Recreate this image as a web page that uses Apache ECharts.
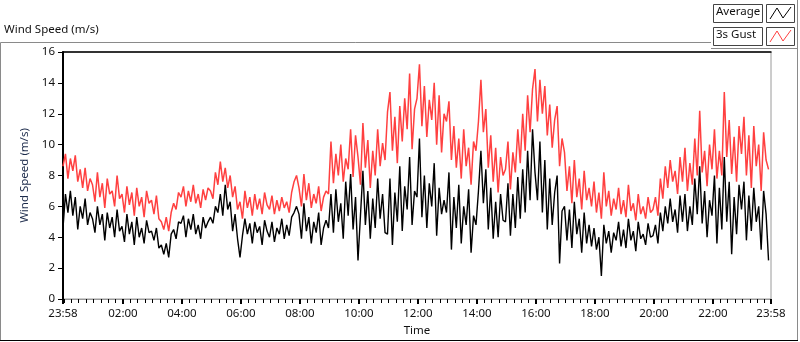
<!DOCTYPE html>
<html>
<head>
<meta charset="utf-8">
<script src="https://cdn.jsdelivr.net/npm/echarts@6/dist/echarts.min.js"></script>
<style>
html, body { margin: 0; padding: 0; background: #fff; }
#chart { width: 800px; height: 342px; }
</style>
</head>
<body>
<div id="chart"></div>
<script>
// one sample every 5 minutes, starting 23:58
const stepMinutes = 5;

const gust = [
  8.6, 9.4, 7.8, 9.1, 8.3, 9.3, 7.6, 8.4, 7.2, 8.5, 7.0, 7.8,
  7.4, 6.3, 8.2, 6.6, 7.5, 5.9, 7.8, 6.8, 7.0, 6.0, 8.0, 6.5,
  6.8, 5.6, 7.3, 6.1, 6.9, 5.4, 7.2, 6.0, 6.6, 5.3, 7.0, 6.2,
  6.4, 5.5, 6.7, 5.2, 5.0, 4.5, 5.3, 4.4, 5.6, 6.2, 5.8, 6.9,
  6.6, 7.3, 6.0, 7.0, 6.3, 7.4, 6.2, 6.8, 5.9, 7.1, 6.4, 7.2,
  7.0, 6.5, 8.2, 7.4, 8.9, 7.6, 8.5, 7.2, 8.0, 6.6, 7.3, 5.8,
  6.3, 5.2, 7.0, 5.9, 6.6, 5.4, 6.8, 5.8, 6.5, 5.5, 6.9, 6.1,
  5.8, 6.7, 5.5, 6.4, 5.7, 6.6, 5.9, 6.3, 5.6, 6.9, 7.6, 8.0,
  7.2, 6.0, 8.1, 6.4, 7.5, 5.9, 6.8, 6.2, 7.3, 5.7, 6.6, 7.0,
  6.8, 10.2, 7.5, 9.4, 8.0, 10.0, 7.6, 9.1, 8.4, 11.0, 7.9, 10.6,
  9.2, 7.4, 11.4, 8.5, 10.3, 7.2, 9.6, 8.0, 11.0, 8.6, 10.1, 9.0,
  12.1, 13.4, 9.6, 11.8, 8.8, 12.5, 10.2, 13.0, 11.0, 14.6, 9.7, 12.3,
  13.0, 15.2, 11.2, 13.8, 10.5, 12.9, 11.6, 14.0, 10.0, 13.2, 9.5, 12.0,
  11.5, 12.8, 9.0, 11.2, 8.5, 10.4, 7.8, 11.0, 8.6, 9.8, 7.4, 10.2,
  9.6, 11.5, 14.2, 10.8, 12.3, 8.5, 10.6, 7.6, 9.8, 6.9, 9.2, 8.0,
  8.4, 10.2, 7.1, 9.5, 8.2, 11.0, 8.8, 12.0, 9.6, 13.2, 10.8, 13.6,
  14.9, 11.5, 14.2, 12.0, 13.8, 10.6, 12.6, 9.8, 11.6, 12.5, 8.6, 10.4,
  9.5, 7.0, 8.6, 6.2, 9.0, 6.6, 7.8, 5.8, 8.3, 6.4, 7.2, 6.0,
  7.6, 5.6, 6.9, 5.2, 8.2, 6.0, 7.0, 5.4, 6.5, 5.8, 7.2, 5.5,
  6.4, 5.3, 7.4, 5.7, 6.2, 5.1, 6.8, 5.5, 6.0, 5.2, 6.6, 5.6,
  5.8, 6.6, 5.4, 7.8, 6.5, 8.6, 7.2, 9.0, 7.6, 8.3, 6.8, 9.2,
  7.6, 9.8, 7.0, 8.8, 7.4, 10.4, 8.0, 12.2, 8.2, 9.6, 7.3, 10.0,
  8.4, 11.0, 7.8, 9.6, 8.0, 13.4, 9.2, 11.6, 8.1, 10.5, 7.6, 11.2,
  9.4, 11.8, 8.0, 10.6, 7.2, 11.2, 8.6, 10.0, 7.0, 10.8, 9.0, 8.4
];

const average = [
  4.6, 6.8, 5.6, 7.0, 5.4, 6.6, 4.5, 6.0, 5.2, 6.5, 4.8, 5.6,
  5.2, 4.3, 6.0, 4.8, 5.5, 3.8, 5.6, 4.6, 5.3, 4.0, 5.8, 4.4,
  4.7, 3.7, 5.5, 4.2, 5.0, 3.5, 5.3, 4.0, 4.6, 3.6, 5.1, 4.3,
  4.4, 3.8, 4.6, 3.3, 3.5, 2.9, 3.6, 2.7, 4.2, 4.5, 3.9, 5.0,
  4.9, 5.4, 4.0, 5.2, 4.5, 5.5, 4.2, 4.8, 3.9, 5.3, 4.6, 5.0,
  5.3, 4.9, 6.0, 5.6, 6.8, 5.4, 7.4, 5.8, 6.3, 4.4, 5.5, 3.9,
  2.7, 4.1, 5.2, 4.2, 4.9, 3.6, 5.0, 4.3, 4.7, 3.5, 5.1, 4.4,
  4.0, 5.0, 3.7, 4.6, 4.2, 5.2, 3.9, 4.8, 4.1, 5.3, 5.6, 6.0,
  5.5, 3.9, 6.2, 4.4, 5.3, 3.6, 5.0, 4.3, 5.6, 3.5, 4.6, 5.1,
  4.6, 6.8, 4.3, 7.1, 5.0, 6.2, 3.9, 7.6, 5.4, 8.1, 4.5, 6.6,
  2.5, 5.4, 8.3, 4.8, 7.0, 3.9, 6.5, 4.6, 7.8, 5.2, 6.8, 4.3,
  4.2, 7.8, 3.5, 6.9, 5.0, 8.6, 4.4, 7.3, 5.8, 9.2, 4.8, 7.0,
  6.6, 10.4, 5.3, 8.0, 4.6, 7.5, 6.0, 8.8, 4.1, 7.2, 5.5, 6.4,
  5.6, 8.2, 3.2, 6.6, 4.6, 7.4, 3.6, 6.0, 4.8, 7.1, 3.0, 5.4,
  4.8, 7.0, 9.6, 6.2, 8.4, 4.5, 7.2, 3.9, 6.3, 4.0, 6.8, 5.1,
  5.0, 7.5, 4.1, 6.8, 4.6, 7.9, 5.2, 8.4, 5.6, 9.6, 6.4, 11.0,
  8.2, 6.4, 10.2, 5.6, 9.0, 4.5, 7.8, 4.8, 6.9, 8.0, 2.3, 5.7,
  6.0, 3.8, 5.8, 3.3, 6.3, 4.2, 5.2, 3.0, 5.6, 3.6, 4.8, 3.4,
  4.6, 3.2, 4.0, 1.5, 4.8, 3.6, 4.4, 3.0, 4.3, 3.8, 5.0, 3.4,
  4.5, 3.3, 5.2, 3.8, 4.4, 3.1, 5.0, 3.9, 4.2, 3.5, 4.9, 4.0,
  4.1, 4.8, 3.6, 5.6, 4.4, 6.0, 4.9, 6.5, 5.0, 5.8, 4.3, 6.7,
  5.0, 6.8, 4.4, 6.0, 4.8, 7.8, 5.5, 8.6, 4.9, 7.0, 4.0, 6.4,
  5.4, 8.0, 3.6, 7.2, 4.5, 9.2, 5.0, 7.6, 2.9, 6.6, 4.2, 7.4,
  5.8, 7.6, 3.8, 6.7, 4.4, 7.2, 5.0, 6.0, 3.2, 7.0, 5.5, 2.5
];

// minutes after 23:58
const majorTicks = [0, 122, 242, 362, 482, 602, 722, 842, 962, 1082, 1202, 1322, 1440];
const tickLabels = ['23:58', '02:00', '04:00', '06:00', '08:00', '10:00', '12:00',
  '14:00', '16:00', '18:00', '20:00', '22:00', '23:58'];
const minorTicks = [];
for (let m = 2; m < 1440; m += 15) {
  if (majorTicks.indexOf(m) < 0) minorTicks.push(m);
}

const toPairs = (arr) => arr.map((v, i) => [i * stepMinutes, v]);

const FONT = 'Noto Sans';
const chart = echarts.init(document.getElementById('chart'));

const option = {
  backgroundColor: '#fff',
  animation: false,
  grid: { left: 63, right: 29, top: 52, bottom: 40, show: true, borderColor: '#9a9a9a', borderWidth: 1 },
  xAxis: [
    {
      type: 'value', min: 0, max: 1440, position: 'bottom',
      name: 'Time', nameLocation: 'middle', nameGap: 26,
      nameTextStyle: { fontFamily: FONT, fontSize: 11.5, color: '#111' },
      splitLine: { show: false },
      axisLine: { show: true, lineStyle: { color: '#9a9a9a', width: 1 } },
      axisTick: { show: true, customValues: majorTicks, length: 5, lineStyle: { color: '#000', width: 2 } },
      axisLabel: {
        customValues: majorTicks, margin: 9, fontFamily: FONT, fontSize: 11.5, color: '#111',
        formatter: (v) => tickLabels[majorTicks.indexOf(v)]
      }
    },
    {
      type: 'value', min: 0, max: 1440, position: 'bottom',
      splitLine: { show: false },
      axisLine: { show: false },
      axisTick: { show: true, customValues: minorTicks, length: 4, lineStyle: { color: '#000', width: 1 } },
      axisLabel: { show: false }
    },
    {
      type: 'value', min: 0, max: 1440, position: 'top',
      splitLine: { show: false },
      axisLine: { show: true, lineStyle: { color: '#000', width: 1.5 } },
      axisTick: { show: false }, axisLabel: { show: false }
    }
  ],
  yAxis: {
    type: 'value', min: 0, max: 16, interval: 2,
    name: 'Wind Speed (m/s)', nameLocation: 'middle', nameGap: 26, nameRotate: 90,
    nameTextStyle: { fontFamily: FONT, fontSize: 11.5, color: '#1b2a4a' },
    splitLine: { show: false },
    axisLine: { show: true, lineStyle: { color: '#000', width: 2 } },
    axisTick: { show: true, length: 5, lineStyle: { color: '#000' } },
    axisLabel: { margin: 8, fontFamily: FONT, fontSize: 11.5, color: '#111' }
  },
  series: [
    {
      name: '3s Gust', type: 'line', data: toPairs(gust), showSymbol: false,
      lineStyle: { color: '#ff4040', width: 1.5 }, itemStyle: { color: '#ff4040' }
    },
    {
      name: 'Average', type: 'line', data: toPairs(average), showSymbol: false,
      lineStyle: { color: '#000', width: 1.4 }, itemStyle: { color: '#000' }
    }
  ],
  graphic: [
    { type: 'text', left: 4, top: 24, style: { text: 'Wind Speed (m/s)', font: '11.5px "Noto Sans"', fill: '#111' } },
    // outer frame
    { type: 'line', shape: { x1: 0.5, y1: 42.5, x2: 711, y2: 42.5 }, style: { stroke: '#8a8a8a', lineWidth: 1 } },
    { type: 'line', shape: { x1: 711, y1: 48.5, x2: 797, y2: 48.5 }, style: { stroke: '#8a8a8a', lineWidth: 1 } },
    { type: 'line', shape: { x1: 0.5, y1: 42.5, x2: 0.5, y2: 341 }, style: { stroke: '#8a8a8a', lineWidth: 1 } },
    { type: 'line', shape: { x1: 797.5, y1: 0, x2: 797.5, y2: 341 }, style: { stroke: '#8a8a8a', lineWidth: 1 } },
    { type: 'line', shape: { x1: 0, y1: 340.5, x2: 798, y2: 340.5 }, style: { stroke: '#000', lineWidth: 1 } },
    // legend
    { type: 'rect', shape: { x: 713.5, y: 4.5, width: 49, height: 18 }, style: { fill: '#fff', stroke: '#444', lineWidth: 1 } },
    { type: 'text', left: 716, top: 6, style: { text: 'Average', font: '11.5px "Noto Sans"', fill: '#111' } },
    { type: 'rect', shape: { x: 766.5, y: 4.5, width: 28, height: 18 }, style: { fill: '#fff', stroke: '#444', lineWidth: 1 } },
    { type: 'polyline', shape: { points: [[770, 19], [777, 8], [783, 18], [791, 7]] }, style: { stroke: '#000', lineWidth: 1, fill: null } },
    { type: 'rect', shape: { x: 713.5, y: 27.5, width: 49, height: 18 }, style: { fill: '#fff', stroke: '#444', lineWidth: 1 } },
    { type: 'text', left: 716, top: 29, style: { text: '3s Gust', font: '11.5px "Noto Sans"', fill: '#111' } },
    { type: 'rect', shape: { x: 766.5, y: 27.5, width: 28, height: 18 }, style: { fill: '#fff', stroke: '#444', lineWidth: 1 } },
    { type: 'polyline', shape: { points: [[770, 42], [777, 31], [783, 41], [791, 30]] }, style: { stroke: '#ff4040', lineWidth: 1, fill: null } }
  ]
};

chart.setOption(option);
</script>
</body>
</html>
